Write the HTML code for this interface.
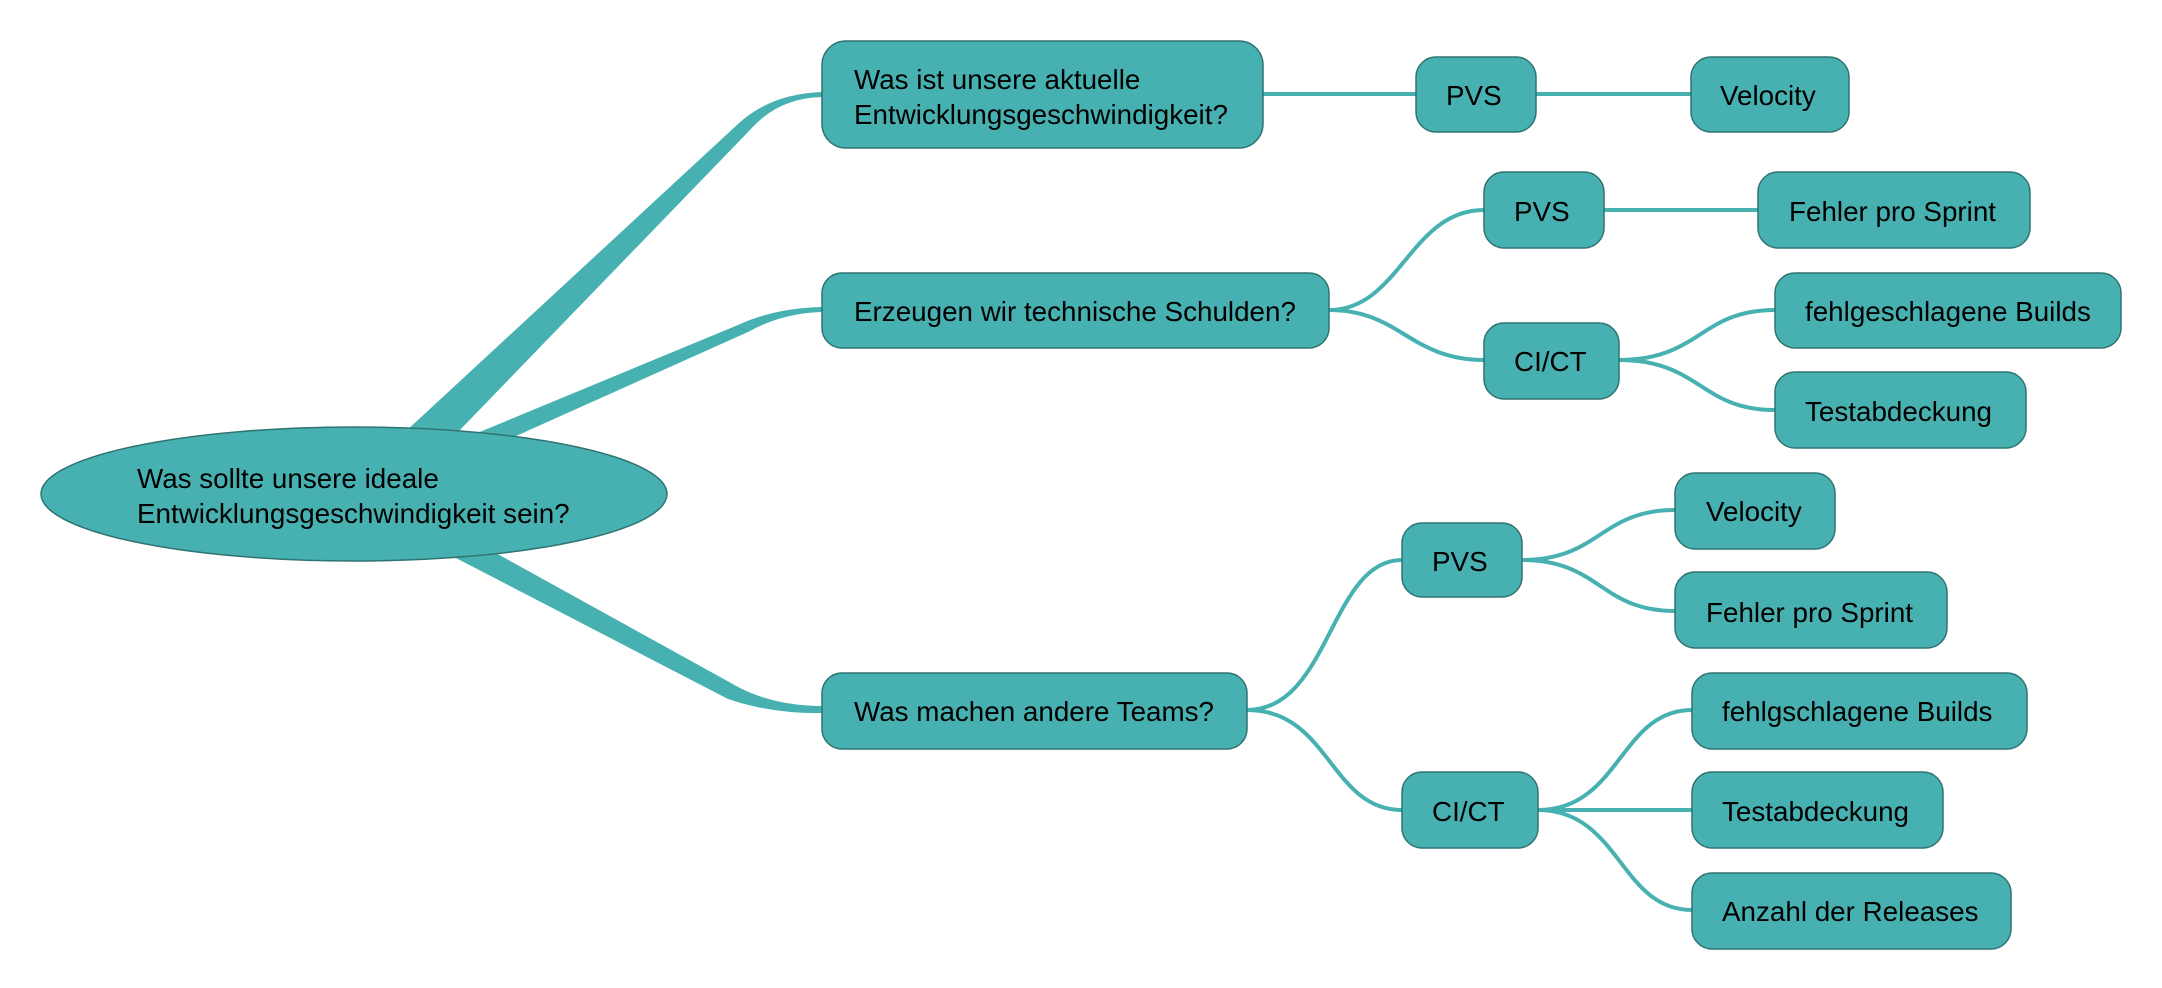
<!DOCTYPE html>
<html><head><meta charset="utf-8"><style>
html,body{margin:0;padding:0;background:#fff;}
svg{display:block;}
text{font-family:"Liberation Sans",Arial,sans-serif;font-size:27.8px;fill:#000;}
</style></head><body>
<svg width="2162" height="988" viewBox="0 0 2162 988" xmlns="http://www.w3.org/2000/svg">
<g fill="#47b1b1" stroke="none">
  <path d="M405,432 L738,124 Q770,94 822,92 L822,97 Q778,98 750,130 L458,432 Z"/>
  <path d="M470,436 L738,325 Q775,308 822,307 L822,312 Q782,313 748,332 L516,436 Z"/>
  <path d="M494,552 L740,688 Q776,706 822,706 L822,713 Q772,714 728,699 L452,556 Z"/>
</g>
<g fill="none" stroke="#47b1b1" stroke-width="4">
  <path d="M1263,94 L1416,94"/>
  <path d="M1536,94 L1691,94"/>
  <path d="M1329,310 C1400,310 1410,210 1484,210"/>
  <path d="M1329,310 C1400,310 1410,360 1484,360"/>
  <path d="M1604,210 L1758,210"/>
  <path d="M1619,360 C1700,360 1700,310 1775,310"/>
  <path d="M1619,360 C1700,360 1700,410 1775,410"/>
  <path d="M1247,710 C1330,710 1330,560 1402,560"/>
  <path d="M1247,710 C1330,710 1330,810 1402,810"/>
  <path d="M1522,560 C1600,560 1600,510 1675,510"/>
  <path d="M1522,560 C1600,560 1600,611 1675,611"/>
  <path d="M1538,810 C1620,810 1620,710 1692,710"/>
  <path d="M1538,810 L1692,810"/>
  <path d="M1538,810 C1620,810 1620,910 1692,910"/>
</g>
<g fill="#47b1b1" stroke="#2f7473" stroke-width="1.5">
  <ellipse cx="354" cy="494" rx="313" ry="67"/>
  <rect x="822" y="41" width="441" height="107" rx="24"/>
  <rect x="822" y="273" width="507" height="75" rx="20"/>
  <rect x="822" y="673" width="425" height="76" rx="20"/>
  <rect x="1416" y="57" width="120" height="75" rx="20"/>
  <rect x="1691" y="57" width="158" height="75" rx="20"/>
  <rect x="1484" y="172" width="120" height="76" rx="20"/>
  <rect x="1758" y="172" width="272" height="76" rx="20"/>
  <rect x="1484" y="323" width="135" height="76" rx="20"/>
  <rect x="1775" y="273" width="346" height="75" rx="20"/>
  <rect x="1775" y="372" width="251" height="76" rx="20"/>
  <rect x="1402" y="523" width="120" height="74" rx="20"/>
  <rect x="1675" y="473" width="160" height="76" rx="20"/>
  <rect x="1675" y="572" width="272" height="76" rx="20"/>
  <rect x="1402" y="772" width="136" height="76" rx="20"/>
  <rect x="1692" y="673" width="335" height="76" rx="20"/>
  <rect x="1692" y="772" width="251" height="76" rx="20"/>
  <rect x="1692" y="873" width="319" height="76" rx="20"/>
</g>
<text x="137" y="488">Was sollte unsere ideale</text>
<text x="137" y="523">Entwicklungsgeschwindigkeit sein?</text>
<text x="854" y="89">Was ist unsere aktuelle</text>
<text x="854" y="124">Entwicklungsgeschwindigkeit?</text>
<text x="854" y="321">Erzeugen wir technische Schulden?</text>
<text x="854" y="721">Was machen andere Teams?</text>
<text x="1446" y="105">PVS</text>
<text x="1720" y="105">Velocity</text>
<text x="1514" y="221">PVS</text>
<text x="1789" y="221">Fehler pro Sprint</text>
<text x="1514" y="371">CI/CT</text>
<text x="1805" y="321">fehlgeschlagene Builds</text>
<text x="1805" y="421">Testabdeckung</text>
<text x="1432" y="571">PVS</text>
<text x="1706" y="521">Velocity</text>
<text x="1706" y="622">Fehler pro Sprint</text>
<text x="1432" y="821">CI/CT</text>
<text x="1722" y="721">fehlgschlagene Builds</text>
<text x="1722" y="821">Testabdeckung</text>
<text x="1722" y="921">Anzahl der Releases</text>
</svg>
</body></html>
